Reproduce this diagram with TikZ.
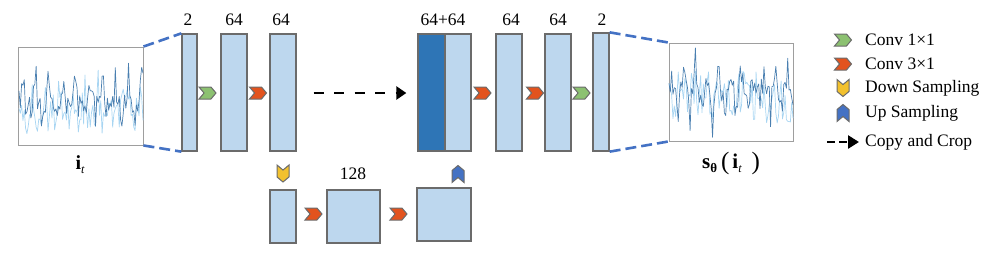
\documentclass[tikz,border=0pt]{standalone}
\usepackage{fontspec}
\setmainfont{Liberation Serif}
\usetikzlibrary{shapes.symbols,arrows.meta}
\definecolor{blkfill}{HTML}{BDD7EE}
\definecolor{blkdark}{HTML}{2E75B6}
\definecolor{blkline}{HTML}{6B6B6B}
\definecolor{cgreen}{HTML}{8CC171}
\definecolor{cred}{HTML}{E2531E}
\definecolor{cyellow}{HTML}{F2C12E}
\definecolor{cblue}{HTML}{4472C4}
\definecolor{dline}{HTML}{4472C4}
\definecolor{sigdark}{HTML}{4A7FB0}
\definecolor{siglight}{HTML}{A8D5F2}
\begin{document}
\begin{tikzpicture}[x=1pt,y=-1pt,
  blk/.style={draw=blkline, line width=1.3pt, fill=blkfill, inner sep=0pt, minimum width=26pt, minimum height=117pt},
  sigbox/.style={draw=black!38, line width=0.9pt, inner sep=0pt},
  lbl/.style={font=\fontsize{17.5}{18}\selectfont, inner sep=0pt},
  chev/.style={shape=signal, draw=blkline, line width=1pt, inner sep=0pt, signal pointer angle=100, minimum width=17pt, minimum height=12pt, signal to=east, signal from=west},
  chevR/.style={chev},
  chevD/.style={chev, rotate=-90},
  chevU/.style={chev, rotate=90},
  bluedash/.style={draw=dline, line width=2.6pt, dash pattern=on 11pt off 5pt},
  copyarrow/.style={draw=black, line width=2.6pt, dash pattern=on 10pt off 10.5pt, -{Triangle[length=10pt,width=13pt]}}
]
\useasboundingbox (0,0) rectangle (997,255);

% signal boxes
\node[sigbox, minimum width=125pt, minimum height=98pt] (sigL) at (80.5,96) {};
\node[sigbox, minimum width=124pt, minimum height=98pt] (sigR) at (731,92) {};
\begin{scope}
  \clip (sigL.north west) rectangle (sigL.south east);
  \pgfmathsetseed{11}
  \draw[siglight, line width=0.7pt, line join=round] plot[domain=0:124, samples=95] (\x+19, {114 + 20*rand - 30*(0.6+0.4*rand)*(0.5+0.5*sin(\x*27+100))^5});
  \pgfmathsetseed{5}
  \draw[sigdark, line width=0.7pt, line join=round] plot[domain=0:124, samples=95] (\x+19, {104 + 14*rand + 24*(0.5+0.5*sin(\x*27+190))^6*(0.3+0.7*rand) - 52*(0.6+0.4*rand)*(0.5+0.5*sin(\x*27))^6});
\end{scope}
\begin{scope}
  \clip (sigR.north west) rectangle (sigR.south east);
  \pgfmathsetseed{23}
  \draw[siglight, line width=0.7pt, line join=round] plot[domain=0:124, samples=95] (\x+669, {97 + 26*rand});
  \pgfmathsetseed{31}
  \draw[sigdark, line width=0.7pt, line join=round] plot[domain=0:124, samples=95] (\x+669, {92 + 14*rand - 42*(0.5+0.5*rand)*(0.5+0.5*sin(\x*31))^6 + 42*(0.4+0.6*rand)*(0.5+0.5*sin(\x*31+170))^8});
\end{scope}
\node[lbl, anchor=base, font=\fontsize{20}{20}\selectfont] (lblIn) at (80,169) {{\bfseries i}\raisebox{-4pt}{\fontsize{12}{12}\selectfont\itshape t}};
\node[lbl, anchor=base west, font=\fontsize{21}{21}\selectfont] (lblOut) at (702,168) {{\bfseries s}\raisebox{-4pt}{\fontsize{13}{13}\selectfont\bfseries θ}\hspace{4pt}\raisebox{-1pt}{\fontsize{25}{25}\selectfont(}\hspace{3pt}{\bfseries i}\raisebox{-4pt}{\fontsize{12}{12}\selectfont\itshape t}\hspace{10pt}\raisebox{-1pt}{\fontsize{25}{25}\selectfont)}};

% encoder blocks
\node[blk, minimum width=15pt] (b1) at (189.5,92.5) {};
\node[blk] (b2) at (234,92.5) {};
\node[blk] (b3) at (283,92.5) {};
% decoder blocks
\node[blk, fill=blkdark, minimum width=27pt] (b4a) at (431.5,92.5) {};
\node[blk] (b4b) at (458,92.5) {};
\node[blk] (b5) at (509,92.5) {};
\node[blk] (b6) at (558,92.5) {};
\node[blk, minimum width=16pt, minimum height=118pt] (b7) at (601,92) {};
% bottom blocks
\node[blk, minimum height=53pt] (c1) at (283,216.5) {};
\node[blk, minimum width=53pt, minimum height=53pt] (c2) at (353.5,216.5) {};
\node[blk, minimum width=54pt, minimum height=53pt] (c3) at (444,214.5) {};

% labels
\node[lbl] (l1) at (188,20) {2};
\node[lbl] (l2) at (234,20) {64};
\node[lbl] (l3) at (281,20) {64};
\node[lbl] (l4) at (443,20) {64+64};
\node[lbl] (l5) at (511,20) {64};
\node[lbl] (l6) at (558,20) {64};
\node[lbl] (l7) at (602,20) {2};
\node[lbl] (l8) at (353,174) {128};

% chevrons
\node[chevR, fill=cgreen] (k1) at (207.5,93) {};
\node[chevR, fill=cred] (k2) at (258,93) {};
\node[chevR, fill=cred] (k3) at (482.5,93) {};
\node[chevR, fill=cred] (k4) at (535,93) {};
\node[chevR, fill=cgreen] (k5) at (581.5,93) {};
\node[chevR, fill=cred] (k6) at (313.5,214) {};
\node[chevR, fill=cred] (k7) at (398.5,214) {};
\node[chevD, fill=cyellow] (k8) at (283,173.5) {};
\node[chevU, fill=cblue] (k9) at (458,174) {};

% connectors
\draw[bluedash] (sigL.north east) -- (b1.north west);
\draw[bluedash] (sigL.south east) -- (b1.south west);
\draw[bluedash] (b7.north east) -- (sigR.north west);
\draw[bluedash] (b7.south east) -- (sigR.south west);
\draw[copyarrow, shorten <=17pt, shorten >=11pt] (b3.east |- 0,93) -- (b4a.west |- 0,93);

% legend
\node[chevR, fill=cgreen] (g1) at (843,40) {};
\node[chevR, fill=cred] (g2) at (843,64) {};
\node[chevD, fill=cyellow] (g3) at (843,88) {};
\node[chevU, fill=cblue] (g4) at (843,113) {};
\coordinate (g5a) at (827,142);
\coordinate (g5b) at (859,142);
\draw[draw=black, line width=2.6pt, dash pattern=on 8pt off 4pt, -{Triangle[length=11pt,width=13pt]}] (g5a) -- (g5b);
\node[lbl, anchor=west] (t1) at (865,40) {Conv 1×1};
\node[lbl, anchor=west] (t2) at (865,64) {Conv 3×1};
\node[lbl, anchor=west] (t3) at (865,88) {Down Sampling};
\node[lbl, anchor=west] (t4) at (865,113) {Up Sampling};
\node[lbl, anchor=west] (t5) at (865,142) {Copy and Crop};
\end{tikzpicture}
\end{document}
